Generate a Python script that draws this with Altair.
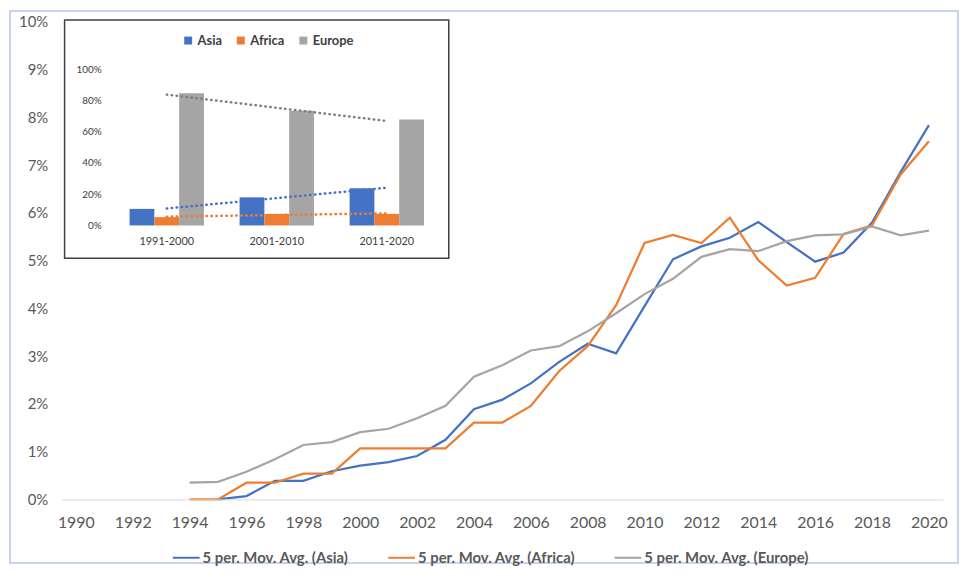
import altair as alt
import pandas as pd
import numpy as np

# ---------------- main chart data (percent) ----------------
regions = ["Asia", "Africa", "Europe"]
colors = ["#4472C4", "#ED7D31", "#A5A5A5"]

asia_years = list(range(1995, 2021))
asia = [0.00, 0.07, 0.39, 0.39, 0.59, 0.71, 0.78, 0.91, 1.25, 1.89,
        2.09, 2.43, 2.88, 3.26, 3.06, 4.05, 5.03, 5.30, 5.48, 5.81,
        5.39, 4.98, 5.17, 5.80, 6.85, 7.84]

africa_years = list(range(1994, 2021))
africa = [0.00, 0.00, 0.35, 0.35, 0.54, 0.54, 1.07, 1.07, 1.07, 1.07,
          1.61, 1.61, 1.96, 2.69, 3.21, 4.07, 5.37, 5.54, 5.37, 5.90,
          5.01, 4.48, 4.64, 5.56, 5.74, 6.80, 7.50]

europe_years = list(range(1994, 2021))
europe = [0.35, 0.37, 0.58, 0.84, 1.14, 1.20, 1.41, 1.48, 1.70, 1.96,
          2.57, 2.81, 3.12, 3.21, 3.52, 3.90, 4.30, 4.62, 5.08, 5.24,
          5.20, 5.41, 5.53, 5.55, 5.72, 5.53, 5.63]

x_ticks = list(range(1990, 2021, 2))
y_ticks = [i / 100 for i in range(0, 11)]

# ---------------- inset data (share) ----------------
decades = ["1991-2000", "2001-2010", "2011-2020"]
asia_share = [0.106, 0.180, 0.239]
africa_share = [0.053, 0.074, 0.074]
europe_share = [0.847, 0.735, 0.678]
inset_ticks = [0, 0.2, 0.4, 0.6, 0.8, 1.0]
trend_colors = ["#4472C4", "#ED7D31", "#7F7F7F"]

rows = []
for name, ys, vals in [("Asia", asia_years, asia), ("Africa", africa_years, africa),
                       ("Europe", europe_years, europe)]:
    for yr, v in zip(ys, vals):
        rows.append({"year": yr, "value": v / 100, "region": name})
main_df = pd.DataFrame(rows)

irows, trows = [], []
idx = np.arange(len(decades))
for name, vals in [("Asia", asia_share), ("Africa", africa_share), ("Europe", europe_share)]:
    slope, icpt = np.polyfit(idx, vals, 1)
    for i, d in enumerate(decades):
        irows.append({"decade": d, "region": name, "share": vals[i]})
        trows.append({"decade": d, "region": name, "share": icpt + slope * i})
inset_df = pd.DataFrame(irows)
trend_df = pd.DataFrame(trows)

W, H = 888, 481
FONT = "Lato"

lines = alt.Chart(main_df).mark_line(strokeWidth=2.25).encode(
    x=alt.X("year:Q",
            scale=alt.Scale(domain=[1989.5, 2020.5], nice=False, zero=False),
            axis=alt.Axis(values=x_ticks, format="d", title=None, grid=False, ticks=False,
                          domainColor="#D9D9D9", domainWidth=1, labelFontSize=16,
                          labelPadding=15, labelColor="#595959", labelFont=FONT, zindex=1)),
    y=alt.Y("value:Q",
            scale=alt.Scale(domain=[0, 0.1], nice=False),
            axis=alt.Axis(values=y_ticks, format=".0%", title=None, grid=False, ticks=False,
                          domain=False, labelFontSize=15, labelPadding=14,
                          labelColor="#595959", labelFont=FONT, zindex=1)),
    color=alt.Color("region:N",
                    scale=alt.Scale(domain=regions, range=colors),
                    legend=alt.Legend(title=None, orient="none", legendX=111, legendY=525,
                                      direction="horizontal", symbolType="stroke",
                                      symbolSize=729, symbolStrokeWidth=2,
                                      labelExpr="'5 per. Mov. Avg. (' + datum.label + ')'",
                                      labelFontSize=15, labelFontWeight="bold",
                                      labelColor="#595959", labelFont=FONT, labelLimit=400,
                                      labelOffset=2, columnPadding=35)),
)


def ix():
    return alt.X("decade:N", sort=decades,
                 scale=alt.Scale(domain=decades, range=[50.5, 383],
                                 paddingInner=0.324, paddingOuter=0.162),
                 axis=alt.Axis(orient="bottom", offset=-276, title=None, labelAngle=0,
                               ticks=False, domain=False, grid=False, labelFontSize=11,
                               labelPadding=10, labelColor="#404040", labelFont=FONT,
                               zindex=1))


def iy():
    return alt.Y("share:Q",
                 scale=alt.Scale(domain=[0, 1], range=[205, 47.7], nice=False),
                 axis=alt.Axis(orient="left", offset=-48, values=inset_ticks, format=".0%",
                               title=None, ticks=False, domain=False, grid=False,
                               labelFontSize=10, labelPadding=8, labelColor="#404040",
                               labelFont=FONT, zindex=1))


bars = alt.Chart(inset_df).mark_bar().encode(
    x=ix(), y=iy(),
    xOffset=alt.XOffset("region:N", sort=regions,
                        scale=alt.Scale(domain=regions, paddingInner=0, paddingOuter=0)),
    color=alt.Color("region:N", scale=alt.Scale(domain=regions, range=colors),
                    legend=alt.Legend(title=None, orient="none", legendX=121, legendY=12,
                                      direction="horizontal", symbolType="square",
                                      symbolSize=64, symbolStrokeWidth=0,
                                      labelFontSize=13, labelFontWeight="bold",
                                      labelColor="#404040", labelFont=FONT,
                                      labelOffset=3, columnPadding=12)),
)

trends = alt.Chart(trend_df).mark_line(strokeDash=[0.5, 4.5], strokeWidth=2.5,
                                       strokeCap="round").encode(
    x=ix(), y=iy(),
    stroke=alt.Stroke("region:N", scale=alt.Scale(domain=regions, range=trend_colors),
                      legend=None),
)

inset = alt.layer(bars, trends)

one = pd.DataFrame({"k": [0]})
frame = alt.Chart(one).mark_rect(fill="white", stroke="#B4C7E7", strokeWidth=1.5).encode(
    x=alt.value(-52), x2=alt.value(903), y=alt.value(-11), y2=alt.value(545))
box = alt.Chart(one).mark_rect(fill="white", stroke="#404040", strokeWidth=1.5).encode(
    x=alt.value(3), x2=alt.value(390), y=alt.value(-2), y2=alt.value(238))

chart = alt.layer(frame, box, lines, inset).resolve_scale(
    x="independent", y="independent", color="independent"
).properties(
    width=W, height=H,
    padding={"left": 54, "top": 12, "right": 17, "bottom": 65},
    autosize=alt.AutoSizeParams(type="none"),
    background="white",
).configure_view(stroke=None).configure(font=FONT)

chart.save("out.html", embed_options={"renderer": "svg", "actions": False})
